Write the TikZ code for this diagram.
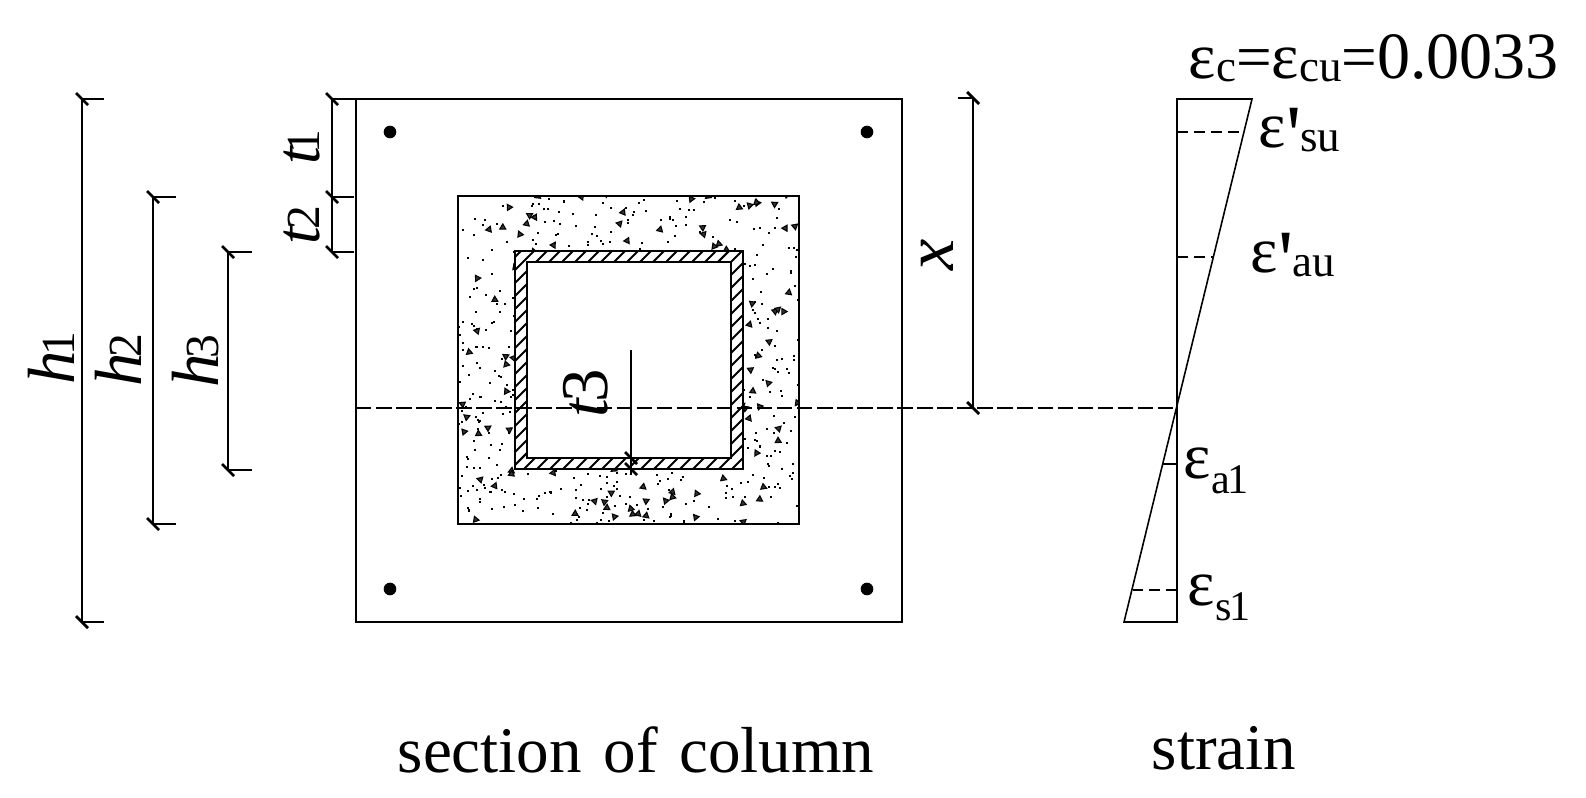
\documentclass[tikz,border=0pt]{standalone}
\usepackage{fontspec}
\setmainfont{Liberation Serif}
\newfontfamily\primefont{Liberation Serif}
\usetikzlibrary{calc}
\tikzset{
	line/.style = {line width=0.45pt},
	dimline/.style = {line width=0.45pt},
	dimtick/.style = {line width=0.8pt},
	dashline/.style = {line width=0.45pt, dash pattern=on 4.4pt off 1.3pt},
	shortdash/.style = {line width=0.45pt, dash pattern=on 3.2pt off 1.6pt},
	rebar/.style = {circle, fill=black, inner sep=0pt, minimum size=3.6pt},
	lab/.style = {inner sep=0pt, anchor=base west, font=\fontsize{18}{18}\selectfont},
	vlab/.style = {lab, rotate=90},
}
\newcommand{\tickat}[1]{\draw[dimtick] ($(#1)+(-6,-6)$) -- ($(#1)+(6,6)$);}
% epsilon with subscript: drop, subscript
\newcommand{\epsglyph}{{\fontsize{18.5}{19}\selectfont ε}}
\newcommand{\epsub}[2]{\epsglyph\raisebox{-#1pt}{\fontsize{12.8}{13}\selectfont #2}}
\newcommand{\epprime}[2]{\epsglyph\raisebox{-4.7pt}{\fontsize{24}{24}\primefont '}\kern-0.3pt\raisebox{-#1pt}{\fontsize{12.8}{13}\selectfont #2}}
\newcommand{\dimname}[3]{\fontsize{#1}{#1}\selectfont\textit{#2}\kern-1.2pt\fontsize{13.5}{14}\selectfont #3}

\begin{document}
\begin{tikzpicture}[x=0.01cm,y=-0.01cm]
	\useasboundingbox (0,0) rectangle (1586,797);
	% section
	\coordinate (outerA) at (356,99);
	\coordinate (outerB) at (902,622);
	\coordinate (coreA) at (458,196);
	\coordinate (coreB) at (799,524);
	\coordinate (tubeA) at (515,251);
	\coordinate (tubeB) at (743,469);
	\coordinate (holeA) at (527,262);
	\coordinate (holeB) at (731,458);
	\draw[line] (outerA) rectangle (outerB);
	\begin{scope}
		\clip (coreA) rectangle (coreB);
		\pgfmathsetseed{23}
		\foreach \i in {1,...,640} {
			\pgfmathsetmacro{\px}{458+341*rnd}
			\pgfmathsetmacro{\py}{196+328*rnd}
			\fill (\px,\py) rectangle ++(2,2);
		}
		\foreach \i in {1,...,170} {
			\pgfmathsetmacro{\px}{458+341*rnd}
			\pgfmathsetmacro{\py}{196+328*rnd}
			\pgfmathsetmacro{\pa}{360*rnd}
			\filldraw[fill=black!80, line width=0.3pt] (\px,\py) -- ++(\pa:6) -- ++(\pa+120:6) -- cycle;
		}
	\end{scope}
	\draw[line] (coreA) rectangle (coreB);
	\fill[white] (tubeA) rectangle (tubeB);
	\begin{scope}
		\clip (tubeA) rectangle (tubeB);
		\foreach \i in {0,13,...,480} {
			\draw[line width=0.55pt] (500+\i,480) -- ++(240,-240);
			\draw[line width=0.55pt] (500-\i,480) -- ++(240,-240);
		}
	\end{scope}
	\draw[line width=0.6pt, fill=white] (holeA) rectangle (holeB);
	\draw[line width=0.6pt] (tubeA) rectangle (tubeB);
	\foreach \name/\x/\y in {ba/390/132, bb/867/132, bc/390/589, bd/867/589} {
		\node[rebar] (\name) at (\x,\y) {};
	}
	% height dimensions
	\foreach \name/\x/\ytop/\ybot/\xend in {hA/82/99/622/104, hB/153/197/524/176, hC/228/252/470/252} {
		\coordinate (\name top) at (\x,\ytop);
		\coordinate (\name bot) at (\x,\ybot);
		\draw[dimline] (\name top) -- (\name bot);
		\draw[dimline] (\name top) -- (\xend,\ytop);
		\draw[dimline] (\name bot) -- (\xend,\ybot);
		\tickat{\name top}
		\tickat{\name bot}
	}
	\coordinate (tA) at (332,99);
	\coordinate (tB) at (332,197);
	\coordinate (tC) at (332,252);
	\draw[dimline] (tA) -- (tC);
	\draw[dimline] (tA) -- (outerA);
	\draw[dimline] (tB) -- (354,197);
	\draw[dimline] (tC) -- (354,252);
	\tickat{tA}
	\tickat{tB}
	\tickat{tC}
	% neutral axis
	\coordinate (naL) at (356,408);
	\coordinate (naR) at (1177,408);
	\coordinate (xtop) at (973,98);
	\coordinate (xbot) at (973,408);
	\draw[dashline] (naL) -- (naR);
	\draw[dimline] (xtop) -- (xbot);
	\draw[dimline] (xtop) -- (958,98);
	\tickat{xtop}
	\tickat{xbot}
	% wall thickness
	\coordinate (wtop) at (631,350);
	\coordinate (wend) at (631,475);
	\coordinate (wA) at (631,458);
	\coordinate (wB) at (631,469);
	\draw[dimline] (wtop) -- (wend);
	\tickat{wA}
	\tickat{wB}
	% strain
	\coordinate (stA) at (1177,99);
	\coordinate (stB) at (1252,99);
	\coordinate (stC) at (1124,622);
	\coordinate (stD) at (1177,622);
	\draw[line] (stA) -- (stB) -- (stC) -- (stD) -- cycle;
	\draw[shortdash] (1177,132) -- (1244,132);
	\draw[shortdash] (1177,257) -- (1213,257);
	\draw[line] (1177,464) -- (1163,464);
	\draw[shortdash] (1177,590) -- (1133,590);
	% labels
	\node[lab] (ec) at (1188,78) {\epsub{1}{c}=\epsub{1}{cu}={\fontsize{18.8}{19}\selectfont 0.0033}};
	\node[lab] (esu) at (1258,147) {\epprime{1.4}{su}};
	\node[lab] (eau) at (1250,272) {\epprime{1.4}{au}};
	\node[lab] (eal) at (1183,478) {\epsub{4.5}{\fontsize{12}{12}\selectfont a\kern-0.6pt 1}};
	\node[lab] (esl) at (1187,605) {\epsub{4.5}{\fontsize{12}{12}\selectfont s\kern-0.6pt 1}};
	\node[vlab] (lhA) at (74,385) {\dimname{19}{h}{1}};
	\node[vlab] (lhB) at (141,387) {\dimname{19}{h}{2}};
	\node[vlab] (lhC) at (218,388) {\dimname{19}{h}{3}};
	\node[vlab] (ltA) at (319,165) {\dimname{18}{t}{\kern-1pt 1}};
	\node[vlab] (ltB) at (319,245) {\dimname{18}{t}{2}};
	\node[vlab, font=\fontsize{19}{19}\selectfont] (ltC) at (607,418) {\textit{t}\kern-1.5pt 3};
	\node[vlab, font=\fontsize{20}{20}\selectfont\itshape] (lx) at (953,271) {x};
	\node[lab, font=\fontsize{18.5}{19}\selectfont] (capA) at (397,772) {section\kern1.5pt{} of\kern1.5pt{} column};
	\node[lab, font=\fontsize{18.5}{19}\selectfont] (capB) at (1151,769) {strain};
\end{tikzpicture}
\end{document}
